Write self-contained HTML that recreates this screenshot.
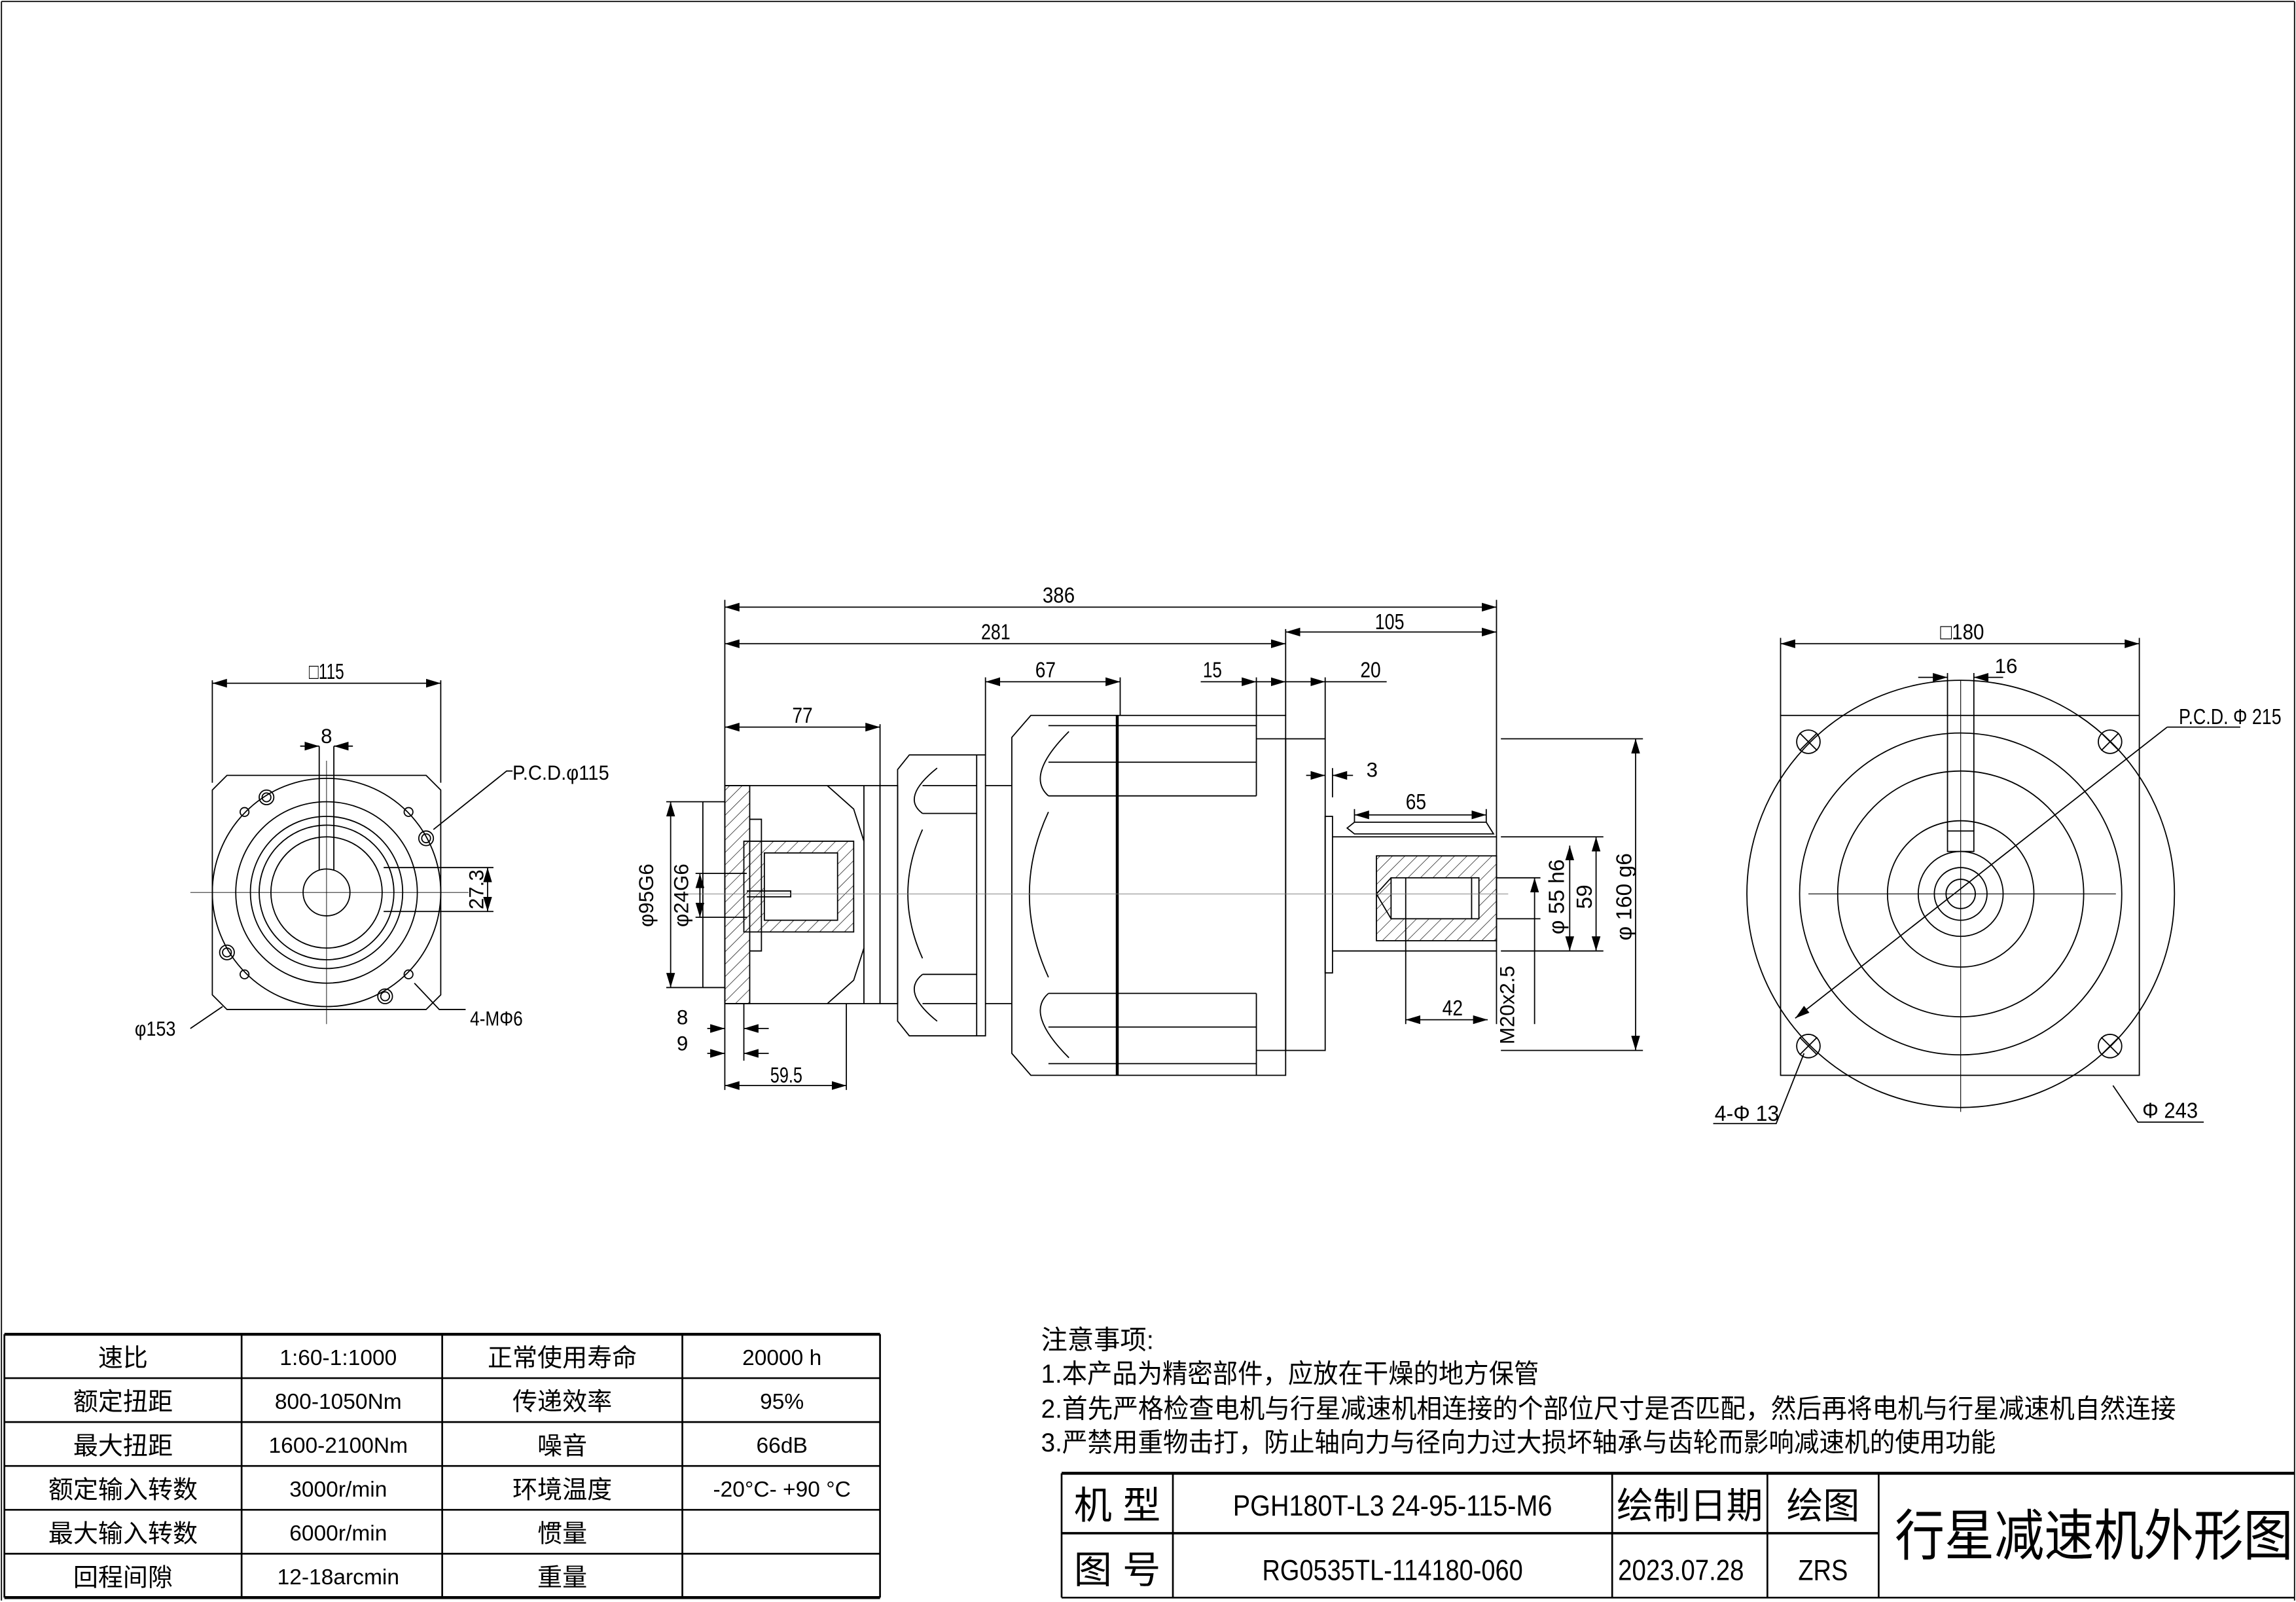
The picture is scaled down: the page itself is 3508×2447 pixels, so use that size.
<!DOCTYPE html>
<html><head><meta charset="utf-8"><style>
html,body{margin:0;padding:0;background:#fff;width:3508px;height:2447px;overflow:hidden}
svg{display:block}
text{font-family:"Liberation Sans","Noto Sans CJK SC",sans-serif;fill:#000}
</style></head><body>
<svg width="3508" height="2447" viewBox="0 0 1568 1095" preserveAspectRatio="none" xmlns="http://www.w3.org/2000/svg">
<defs>
<marker id="a" viewBox="0 0 10 6" refX="10" refY="3" markerWidth="10" markerHeight="6" orient="auto-start-reverse" markerUnits="userSpaceOnUse"><path d="M0,0 L10,3 L0,6 z" fill="#000"/></marker>
<pattern id="h" width="6" height="6" patternUnits="userSpaceOnUse" patternTransform="rotate(45)"><line x1="0" y1="0" x2="0" y2="6" stroke="#000" stroke-width="0.6"/></pattern>
</defs>
<rect x="0" y="0" width="1568" height="1095" fill="#fff"/>
<g fill="none" stroke="#000" stroke-width="0.8">
<line x1="1" y1="1" x2="1567" y2="1"/><line x1="1" y1="1" x2="1" y2="1094"/><line x1="1567" y1="1" x2="1567" y2="1094"/>

<!-- LEFT VIEW -->
<line x1="145" y1="467" x2="301" y2="467" marker-start="url(#a)" marker-end="url(#a)"/>
<line x1="145" y1="465" x2="145" y2="535"/><line x1="301" y1="465" x2="301" y2="535"/>
<path d="M155,530 L291,530 L301,540 L301,680 L291,690 L155,690 L145,680 L145,540 Z"/>
<circle cx="223" cy="610" r="78"/>
<circle cx="223" cy="610" r="62"/>
<circle cx="223" cy="610" r="52"/>
<circle cx="223" cy="610" r="46"/>
<circle cx="223" cy="610" r="38"/>
<circle cx="223" cy="610" r="16"/>
<path d="M218,595 L218,510 M228,595 L228,510" />
<line x1="205" y1="510" x2="218" y2="510" marker-end="url(#a)"/><line x1="241" y1="510" x2="228" y2="510" marker-end="url(#a)"/>
<line x1="223" y1="520" x2="223" y2="700" stroke-width="0.4"/>
<line x1="130" y1="610" x2="320" y2="610" stroke-width="0.4"/>
<circle cx="182" cy="545" r="5"/><circle cx="182" cy="545" r="3"/>
<circle cx="291" cy="573" r="5"/><circle cx="291" cy="573" r="3"/>
<circle cx="155" cy="651" r="5"/><circle cx="155" cy="651" r="3"/>
<circle cx="263" cy="681" r="5"/><circle cx="263" cy="681" r="3"/>
<circle cx="167" cy="555" r="3"/><circle cx="279" cy="555" r="3"/><circle cx="167" cy="666" r="3"/><circle cx="279" cy="666" r="3"/>
<line x1="262" y1="593" x2="337" y2="593"/><line x1="262" y1="623" x2="337" y2="623"/>
<line x1="333" y1="593" x2="333" y2="623" marker-start="url(#a)" marker-end="url(#a)"/>
<path d="M296,567 L346,527 L350,527"/>
<path d="M283,672 L300,690 L318,690"/>
<path d="M130,703 L152,688"/>

<!-- MIDDLE VIEW -->
<line x1="495" y1="415" x2="1022" y2="415" marker-start="url(#a)" marker-end="url(#a)"/>
<line x1="495" y1="440" x2="878" y2="440" marker-start="url(#a)" marker-end="url(#a)"/>
<line x1="878" y1="432" x2="1022" y2="432" marker-start="url(#a)" marker-end="url(#a)"/>
<line x1="495" y1="410" x2="495" y2="537"/><line x1="1022" y1="410" x2="1022" y2="700"/><line x1="878" y1="430" x2="878" y2="489"/>
<line x1="495" y1="497" x2="601" y2="497" marker-start="url(#a)" marker-end="url(#a)"/><line x1="601" y1="495" x2="601" y2="537"/>
<line x1="673" y1="466" x2="765" y2="466" marker-start="url(#a)" marker-end="url(#a)"/>
<line x1="673" y1="463" x2="673" y2="516"/><line x1="765" y1="463" x2="765" y2="489"/>
<line x1="820" y1="466" x2="858" y2="466" marker-end="url(#a)"/><line x1="858" y1="466" x2="878" y2="466" marker-end="url(#a)"/>
<line x1="878" y1="466" x2="905" y2="466" marker-end="url(#a)"/><line x1="905" y1="466" x2="947" y2="466"/>
<line x1="858" y1="463" x2="858" y2="489"/><line x1="905" y1="463" x2="905" y2="505"/>
<rect x="495" y="537" width="106" height="149"/>
<rect x="495" y="537" width="17" height="149" fill="url(#h)"/>
<path d="M512,560 L520,560 L520,650 L512,650"/>
<path d="M508,575 L583,575 L583,637 L508,637 Z" fill="url(#h)"/>
<rect x="522" y="583" width="50" height="46" fill="#fff"/>
<path d="M480,548 L495,548 M480,675 L495,675 M480,548 L480,675"/>
<path d="M510,609 L540,609 L540,613 L510,613"/>
<path d="M565,537 L583,553 L590,575 M565,686 L583,670 L590,648"/>
<line x1="590" y1="537" x2="590" y2="686"/>
<rect x="601" y="537" width="12" height="149"/>
<path d="M621,516 L673,516 L673,708 L621,708 L613,698 L613,526 Z"/>
<line x1="667" y1="516" x2="667" y2="708"/>
<path d="M630,537 L667,537 M630,556 L667,556 M630,666 L667,666 M630,686 L667,686"/>
<path d="M640,525 Q615,545 630,556 M640,698 Q615,678 630,666"/>
<path d="M630,567 Q610,611 630,655"/>
<line x1="673" y1="537" x2="691" y2="537"/><line x1="673" y1="686" x2="691" y2="686"/>
<path d="M704,489 L878,489 L878,735 L704,735 L691,720 L691,504 Z"/>
<line x1="763" y1="489" x2="763" y2="735" stroke-width="2"/>
<path d="M716,496 L858,496 M716,521 L858,521 M716,544 L858,544 M716,679 L858,679 M716,702 L858,702 M716,727 L858,727"/>
<line x1="858" y1="489" x2="858" y2="544"/><line x1="858" y1="679" x2="858" y2="735"/>
<path d="M730,500 Q700,530 716,544 M730,723 Q700,693 716,679"/>
<path d="M716,555 Q690,611 716,668"/>
<line x1="858" y1="505" x2="878" y2="505"/><line x1="858" y1="718" x2="878" y2="718"/>
<rect x="878" y="505" width="27" height="213"/>
<rect x="905" y="558" width="5" height="107"/>
<line x1="892" y1="530" x2="905" y2="530" marker-end="url(#a)"/><line x1="924" y1="530" x2="910" y2="530" marker-end="url(#a)"/>
<line x1="910" y1="525" x2="910" y2="545"/>
<path d="M910,572 L1022,572 M910,650 L1022,650"/>
<path d="M925,562 L1015,562 L1020,570 L925,570 L920,566 Z"/>
<line x1="925" y1="557" x2="1015" y2="557" marker-start="url(#a)" marker-end="url(#a)"/>
<line x1="925" y1="553" x2="925" y2="562"/><line x1="1015" y1="553" x2="1015" y2="562"/>
<rect x="940" y="585" width="82" height="58" fill="url(#h)"/>
<rect x="950" y="600" width="60" height="28" fill="#fff"/>
<path d="M940,611 L950,600 M940,611 L950,628 M960,600 L960,628 M1005,600 L1005,628"/>
<line x1="960" y1="628" x2="960" y2="700"/>
<line x1="960" y1="697" x2="1016" y2="697" marker-start="url(#a)" marker-end="url(#a)"/>
<line x1="1022" y1="600" x2="1052" y2="600"/><line x1="1022" y1="628" x2="1052" y2="628"/>
<line x1="1048" y1="600" x2="1048" y2="700" marker-start="url(#a)"/>
<line x1="1025" y1="572" x2="1095" y2="572"/><line x1="1025" y1="650" x2="1095" y2="650"/>
<line x1="1072" y1="578" x2="1072" y2="650" marker-start="url(#a)" marker-end="url(#a)"/>
<line x1="1090" y1="572" x2="1090" y2="650" marker-start="url(#a)" marker-end="url(#a)"/>
<line x1="1025" y1="505" x2="1122" y2="505"/><line x1="1025" y1="718" x2="1122" y2="718"/>
<line x1="1117" y1="505" x2="1117" y2="718" marker-start="url(#a)" marker-end="url(#a)"/>
<line x1="470" y1="611" x2="1030" y2="611" stroke-width="0.4" stroke="#777"/>
<line x1="455" y1="548" x2="480" y2="548"/><line x1="455" y1="675" x2="480" y2="675"/>
<line x1="458" y1="548" x2="458" y2="675" marker-start="url(#a)" marker-end="url(#a)"/>
<line x1="475" y1="597" x2="510" y2="597"/><line x1="475" y1="627" x2="510" y2="627"/>
<line x1="478" y1="597" x2="478" y2="627" marker-start="url(#a)" marker-end="url(#a)"/>
<line x1="483" y1="703" x2="495" y2="703" marker-end="url(#a)"/><line x1="525" y1="703" x2="508" y2="703" marker-end="url(#a)"/>
<line x1="483" y1="720" x2="495" y2="720" marker-end="url(#a)"/><line x1="525" y1="720" x2="508" y2="720" marker-end="url(#a)"/>
<line x1="508" y1="686" x2="508" y2="725"/>
<line x1="495" y1="686" x2="495" y2="745"/><line x1="578" y1="686" x2="578" y2="745"/>
<line x1="495" y1="742" x2="578" y2="742" marker-start="url(#a)" marker-end="url(#a)"/>

<!-- RIGHT VIEW -->
<line x1="1216" y1="440" x2="1461" y2="440" marker-start="url(#a)" marker-end="url(#a)"/>
<line x1="1216" y1="436" x2="1216" y2="489"/><line x1="1461" y1="436" x2="1461" y2="489"/>
<rect x="1216" y="489" width="245" height="246"/>
<circle cx="1339" cy="611" r="146"/>
<circle cx="1339" cy="611" r="110"/>
<circle cx="1339" cy="611" r="84"/>
<circle cx="1339" cy="611" r="50"/>
<circle cx="1339" cy="611" r="29"/>
<circle cx="1339" cy="611" r="18"/>
<circle cx="1339" cy="611" r="10"/>
<rect x="1330" y="568" width="18" height="14"/>
<line x1="1330" y1="460" x2="1330" y2="568"/><line x1="1348" y1="460" x2="1348" y2="568"/>
<line x1="1310" y1="463" x2="1330" y2="463" marker-end="url(#a)"/><line x1="1368" y1="463" x2="1348" y2="463" marker-end="url(#a)"/>
<line x1="1339" y1="465" x2="1339" y2="760" stroke-width="0.5"/>
<line x1="1235" y1="611" x2="1445" y2="611" stroke-width="0.5"/>
<circle cx="1235" cy="507" r="8"/><circle cx="1441" cy="507" r="8"/><circle cx="1235" cy="715" r="8"/><circle cx="1441" cy="715" r="8"/>
<path d="M1229,501 L1241,513 M1241,501 L1229,513 M1435,501 L1447,513 M1447,501 L1435,513 M1229,709 L1241,721 M1241,709 L1229,721 M1435,709 L1447,721 M1447,709 L1435,721"/>
<line x1="1226" y1="696" x2="1480" y2="497" marker-start="url(#a)"/>
<line x1="1480" y1="497" x2="1530" y2="497"/>
<path d="M1232,720 L1213,768 L1170,768"/>
<path d="M1443,742 L1460,767 L1505,767"/>

<!-- TABLE -->
<g stroke-width="1.2">
<line x1="3" y1="912" x2="601" y2="912" stroke-width="2"/>
<line x1="3" y1="942" x2="601" y2="942"/><line x1="3" y1="972" x2="601" y2="972"/>
<line x1="3" y1="1002" x2="601" y2="1002"/><line x1="3" y1="1032" x2="601" y2="1032"/>
<line x1="3" y1="1062" x2="601" y2="1062"/><line x1="3" y1="1092" x2="601" y2="1092" stroke-width="2"/>
<line x1="3" y1="912" x2="3" y2="1092"/><line x1="165" y1="912" x2="165" y2="1092"/>
<line x1="302" y1="912" x2="302" y2="1092"/><line x1="466" y1="912" x2="466" y2="1092"/>
<line x1="601" y1="912" x2="601" y2="1092"/>
<line x1="725" y1="1007" x2="1567" y2="1007" stroke-width="2"/>
<line x1="725" y1="1092" x2="1567" y2="1092"/>
<line x1="725" y1="1048" x2="1283" y2="1048" stroke-width="1.6"/>
<line x1="725" y1="1007" x2="725" y2="1092"/><line x1="801" y1="1007" x2="801" y2="1092"/>
<line x1="1101" y1="1007" x2="1101" y2="1092"/><line x1="1207" y1="1007" x2="1207" y2="1092"/>
<line x1="1283" y1="1007" x2="1283" y2="1092"/>
</g>
</g>

<g font-size="15" text-anchor="middle">
<text x="223" y="464" lengthAdjust="spacingAndGlyphs" textLength="24">□115</text>
<text x="223" y="508" font-size="14">8</text>
<text x="350" y="533" font-size="14" text-anchor="start" textLength="66" lengthAdjust="spacingAndGlyphs">P.C.D.φ115</text>
<text font-size="14" transform="translate(330,608) rotate(-90)">27.3</text>
<text x="106" y="708" font-size="14" textLength="28" lengthAdjust="spacingAndGlyphs">φ153</text>
<text x="339" y="701" font-size="14" textLength="36" lengthAdjust="spacingAndGlyphs">4-MΦ6</text>
<text x="723" y="412" textLength="22" lengthAdjust="spacingAndGlyphs">386</text>
<text x="680" y="437" textLength="20" lengthAdjust="spacingAndGlyphs">281</text>
<text x="949" y="430" textLength="20" lengthAdjust="spacingAndGlyphs">105</text>
<text x="548" y="494" textLength="14" lengthAdjust="spacingAndGlyphs">77</text>
<text x="714" y="463" textLength="14" lengthAdjust="spacingAndGlyphs">67</text>
<text x="828" y="463" textLength="13" lengthAdjust="spacingAndGlyphs">15</text>
<text x="936" y="463" textLength="14" lengthAdjust="spacingAndGlyphs">20</text>
<text x="937" y="531" font-size="14">3</text>
<text x="967" y="553" textLength="14" lengthAdjust="spacingAndGlyphs">65</text>
<text x="992" y="694" textLength="14" lengthAdjust="spacingAndGlyphs">42</text>
<text x="537" y="740" textLength="22" lengthAdjust="spacingAndGlyphs">59.5</text>
<text x="466" y="700" font-size="14">8</text>
<text x="466" y="718" font-size="14">9</text>
<text transform="translate(446,612) rotate(-90)" font-size="14">φ95G6</text>
<text transform="translate(470,612) rotate(-90)" font-size="14">φ24G6</text>
<text transform="translate(1068,613) rotate(-90)" font-size="15">φ 55 h6</text>
<text transform="translate(1087,613) rotate(-90)" font-size="15">59</text>
<text transform="translate(1114,613) rotate(-90)" font-size="15">φ 160 g6</text>
<text transform="translate(1034,687) rotate(-90)" font-size="14">M20x2.5</text>
<text x="1340" y="437" textLength="30" lengthAdjust="spacingAndGlyphs">□180</text>
<text x="1370" y="460" font-size="14">16</text>
<text x="1523" y="495" textLength="70" lengthAdjust="spacingAndGlyphs">P.C.D. Φ 215</text>
<text x="1193" y="766" textLength="44" lengthAdjust="spacingAndGlyphs">4-Φ 13</text>
<text x="1482" y="764" textLength="38" lengthAdjust="spacingAndGlyphs">Φ 243</text>
</g>

<g font-size="17" text-anchor="middle">
<text x="84" y="934">速比</text><text x="231" y="933" font-size="15">1:60-1:1000</text><text x="384" y="934">正常使用寿命</text><text x="534" y="933" font-size="15">20000 h</text>
<text x="84" y="964">额定扭距</text><text x="231" y="963" font-size="15">800-1050Nm</text><text x="384" y="964">传递效率</text><text x="534" y="963" font-size="15">95%</text>
<text x="84" y="994">最大扭距</text><text x="231" y="993" font-size="15">1600-2100Nm</text><text x="384" y="994">噪音</text><text x="534" y="993" font-size="15">66dB</text>
<text x="84" y="1024">额定输入转数</text><text x="231" y="1023" font-size="15">3000r/min</text><text x="384" y="1024">环境温度</text><text x="534" y="1023" font-size="15">-20°C- +90 °C</text>
<text x="84" y="1054">最大输入转数</text><text x="231" y="1053" font-size="15">6000r/min</text><text x="384" y="1054">惯量</text>
<text x="84" y="1084">回程间隙</text><text x="231" y="1083" font-size="15">12-18arcmin</text><text x="384" y="1084">重量</text>
</g>

<g font-size="18">
<text x="711" y="922">注意事项:</text>
<text x="711" y="945" textLength="340" lengthAdjust="spacingAndGlyphs">1.本产品为精密部件，应放在干燥的地方保管</text>
<text x="711" y="969" textLength="775" lengthAdjust="spacingAndGlyphs">2.首先严格检查电机与行星减速机相连接的个部位尺寸是否匹配，然后再将电机与行星减速机自然连接</text>
<text x="711" y="992" textLength="652" lengthAdjust="spacingAndGlyphs">3.严禁用重物击打，防止轴向力与径向力过大损坏轴承与齿轮而影响减速机的使用功能</text>
</g>
<g text-anchor="middle">
<text x="763" y="1038" font-size="26">机 型</text>
<text x="763" y="1082" font-size="26">图 号</text>
<text x="951" y="1036" font-size="20" textLength="218" lengthAdjust="spacingAndGlyphs">PGH180T-L3 24-95-115-M6</text>
<text x="951" y="1080" font-size="20" textLength="178" lengthAdjust="spacingAndGlyphs">RG0535TL-114180-060</text>
<text x="1154" y="1038" font-size="25">绘制日期</text>
<text x="1148" y="1080" font-size="20" textLength="86" lengthAdjust="spacingAndGlyphs">2023.07.28</text>
<text x="1245" y="1038" font-size="25">绘图</text>
<text x="1245" y="1080" font-size="20" textLength="34" lengthAdjust="spacingAndGlyphs">ZRS</text>
<text x="1430" y="1063" font-size="38" textLength="272" lengthAdjust="spacingAndGlyphs">行星减速机外形图</text>
</g>
</svg>
</body></html>
